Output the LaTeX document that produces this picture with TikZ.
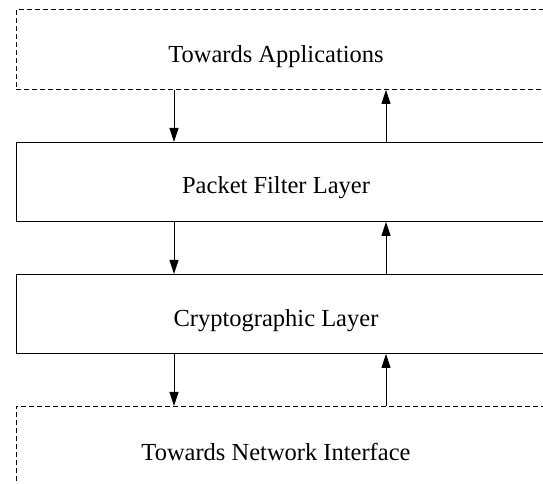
\documentclass[tikz,border=0pt]{standalone}
\usepackage{fontspec}
\setmainfont{Liberation Serif}
\usetikzlibrary{arrows.meta}
\begin{document}
\begin{tikzpicture}[x=1pt,y=1pt,
  layerbox/.style={draw=black, line width=0.9pt, inner sep=0pt, anchor=north west, minimum width=600pt},
  dashbox/.style={layerbox, dash pattern=on 5pt off 3pt},
  lbl/.style={font=\fontsize{24.5}{29}\selectfont, anchor=base, inner sep=0pt},
  flow/.style={-{Triangle[length=14pt,width=9pt]}, line width=0.9pt}]
\useasboundingbox (0,0) rectangle (543,484);
\clip (0,0) rectangle (543,484);
\node[dashbox, minimum height=79.5pt] (app) at (16,474.5) {};
\node[layerbox, minimum height=79pt] (pf) at (16,342) {};
\node[layerbox, minimum height=79pt] (cr) at (16,210) {};
\node[dashbox, minimum height=130pt] (net) at (16,78) {};
\node[lbl] (tapp) at (276,421) {Towards Applications};
\node[lbl] (tpf) at (276,290) {Packet Filter Layer};
\node[lbl] (tcr) at (276,157) {Cryptographic Layer};
\node[lbl] (tnet) at (276,23) {Towards Network Interface};
\coordinate (dn) at (174,0);
\coordinate (up) at (386,0);
\draw[flow] (app.south -| dn) -- (pf.north -| dn);
\draw[flow] (pf.south -| dn) -- (cr.north -| dn);
\draw[flow] (cr.south -| dn) -- (net.north -| dn);
\draw[flow] (pf.north -| up) -- (app.south -| up);
\draw[flow] (cr.north -| up) -- (pf.south -| up);
\draw[flow] (net.north -| up) -- (cr.south -| up);
\end{tikzpicture}
\end{document}
